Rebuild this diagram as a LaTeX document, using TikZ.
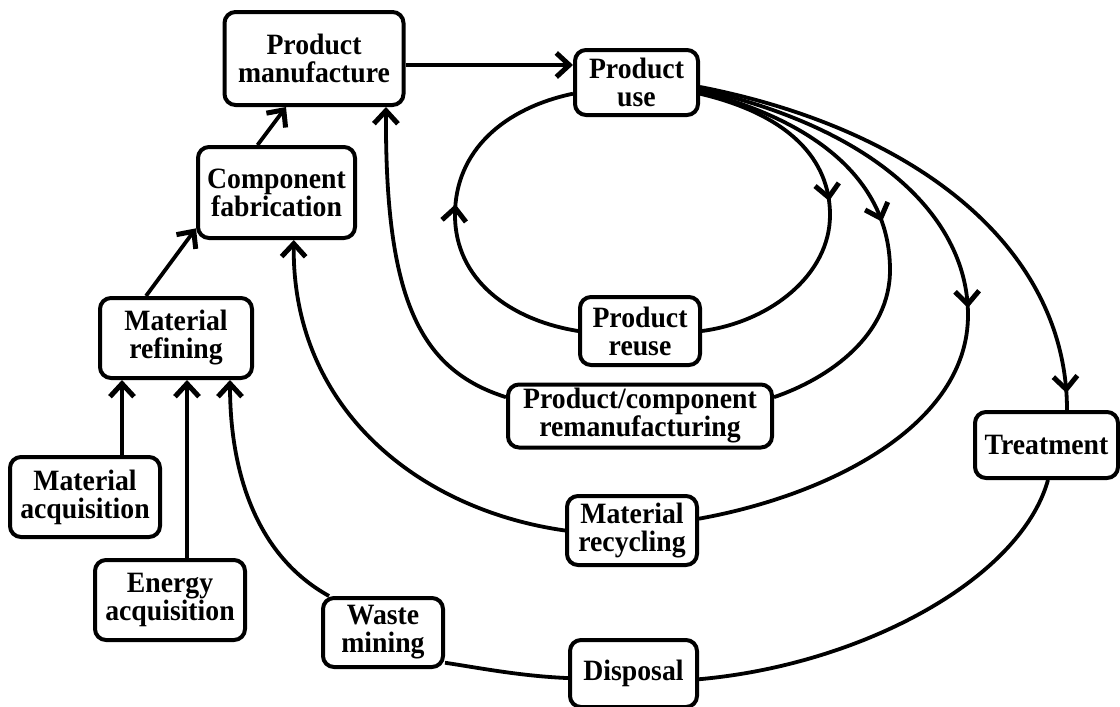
\documentclass[tikz,border=0pt]{standalone}
\usepackage{fontspec}
\setmainfont{Liberation Serif}
\newfontfamily\boxfont[FakeStretch=0.94]{Liberation Serif}
\usetikzlibrary{arrows.meta,decorations.markings,calc}

\begin{document}
\begin{tikzpicture}[x=1pt,y=-1pt,
  box/.style={draw, line width=4pt, rounded corners=11pt, align=center,
    inner sep=0pt, font=\boxfont\bfseries\fontsize{29.5}{28}\selectfont},
  barb/.tip={Straight Barb[length=13pt,width=24pt,line width=5pt]},
  link/.style={line width=3.8pt},
  arr/.style={link,-barb},
  midarrow/.style={postaction={decorate},
    decoration={markings, mark=at position #1 with {\arrow{barb}}}}
]
\useasboundingbox (0,0) rectangle (1120,707);

% life-cycle stages
\node[box, minimum width=179pt, minimum height=93pt] (pm)    at (314,58.5)   {Product\\manufacture};
\node[box, minimum width=123pt, minimum height=65pt] (pu)    at (636.5,82.5) {Product\\use};
\node[box, minimum width=157pt, minimum height=91pt] (cf)    at (276.5,192.5){Component\\fabrication};
\node[box, minimum width=152pt, minimum height=80pt] (mr)    at (176,338)    {Material\\refining};
\node[box, minimum width=150pt, minimum height=80pt] (ma)    at (85,497)     {Material\\acquisition};
\node[box, minimum width=150pt, minimum height=80pt] (ea)    at (170,600)    {Energy\\acquisition};
\node[box, minimum width=120pt, minimum height=68pt] (reuse) at (640,331)    {Product\\reuse};
\node[box, minimum width=264pt, minimum height=63pt] (reman) at (640,416)    {Product/component\\remanufacturing};
\node[box, minimum width=143pt, minimum height=66pt] (treat) at (1046.5,445) {Treatment};
\node[box, minimum width=130pt, minimum height=69pt] (recyc) at (632,530.5)  {Material\\recycling};
\node[box, minimum width=120pt, minimum height=69pt] (wm)    at (383,632.5)  {Waste\\mining};
\node[box, minimum width=127pt, minimum height=67pt] (disp)  at (633.5,673.5){Disposal};

% forward chain
\draw[arr] ([xshift=-54pt]mr.south |- ma.north) -- ([xshift=-54pt]mr.south);
\draw[arr] ([xshift=11pt]mr.south |- ea.north) -- ([xshift=11pt]mr.south);
\draw[arr] ([xshift=-30pt]mr.north) -- (cf.204);
\draw[arr] ([xshift=-19pt]cf.north) -- ([xshift=-28pt]pm.south);
\draw[arr] ([yshift=-6.5pt]pm.east) -- ([yshift=-6.5pt]pm.east -| pu.west);

% reuse loop
\draw[link, midarrow=0.47] (pu.-10) .. controls (790,115) and (830,160) .. (830,215)
  .. controls (830,275) and (770,322) .. (reuse.east);
\draw[link, midarrow=0.53] (reuse.west) .. controls (510,320) and (455,280) .. (455,215)
  .. controls (455,150) and (505,108) .. (pu.-170);

% remanufacturing loop
\draw[link, midarrow=0.5] (pu.-8) .. controls (830,125) and (890,190) .. (890,270)
  .. controls (890,335) and (830,378) .. (reman.8);
\draw[arr] (reman.172) .. controls (420,370) and (385,300) .. ([xshift=72pt]pm.south);

% recycling loop
\draw[link, midarrow=0.5] (pu.-6) .. controls (880,130) and (968,220) .. (968,315)
  .. controls (968,425) and (830,495) .. (recyc.10);
\draw[arr] (recyc.west) .. controls (420,510) and (292,410) .. (cf.-70);

% end of life
\draw[link, midarrow=-17pt] (pu.-4) .. controls (920,130) and (1067,250) .. ([xshift=20.5pt]treat.north);
\draw[link] ([xshift=1.5pt]treat.south) .. controls (1020,580) and (860,665) .. (disp.-5);
\draw[link] (disp.-176) .. controls (520,676) and (480,668) .. (wm.-26);
\draw[arr] ([xshift=8pt]wm.north west) .. controls (255,555) and (230,470) .. ([xshift=54pt]mr.south);
\end{tikzpicture}
\end{document}
